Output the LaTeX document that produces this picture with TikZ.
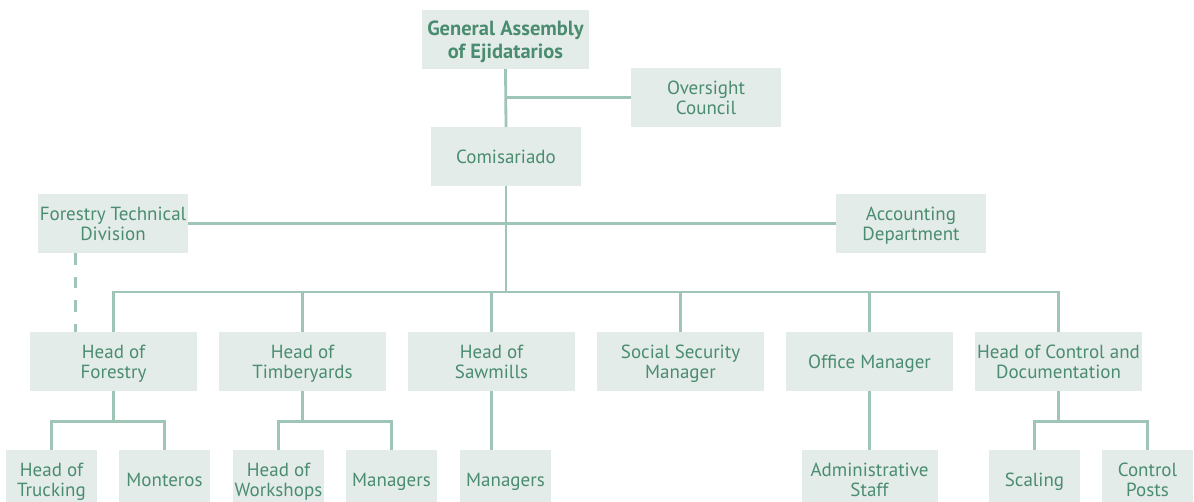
\documentclass[tikz,border=0pt]{standalone}
\usepackage{fontspec}
\setmainfont{PT Sans}
\definecolor{boxfill}{HTML}{E4ECE9}
\definecolor{txtgreen}{HTML}{4A8C70}
\definecolor{linkgreen}{HTML}{9EC5B6}
\begin{document}
\begin{tikzpicture}[x=1pt,y=-1pt,
  % text is centred between the cap line of the first row and the last baseline
  unit/.style={fill=boxfill, draw=none, inner sep=0pt, align=center,
    text=txtgreen, font=\fontsize{19}{20}\selectfont,
    text height=33.3pt, text depth=0pt, minimum height=59pt},
  oneline/.style={text height=13.3pt},
  wide/.style={unit, minimum width=167pt},
  mid/.style={unit, minimum width=150pt},
  small/.style={unit, minimum width=91pt},
  link/.style={draw=linkgreen, line width=2.8pt},
  dotted link/.style={link, dash pattern=on 11.5pt off 12pt}]
\useasboundingbox (0,0) rectangle (1194,502);
\clip (0,0) rectangle (1194,502);

% governing bodies
\node[wide, font=\fontsize{20.5}{23}\selectfont\bfseries, text height=37.5pt]
  (ga) at (505.5,39.5) {General Assembly\\of Ejidatarios};
\node[mid] (ovs) at (706,97.5) {Oversight\\Council};
\node[mid, oneline] (com) at (506,156.5) {Comisariado};
\node[mid] (ftd) at (113,223.5) {Forestry Technical\\Division};
\node[mid] (acc) at (911,223.5) {Accounting\\Department};

% department heads
\node[wide] (hfo) at (113.5,361.5) {Head of\\Forestry};
\node[wide] (hti) at (302.5,361.5) {Head of\\Timberyards};
\node[wide] (hsa) at (491.5,361.5) {Head of\\Sawmills};
\node[wide] (ssm) at (680.5,361.5) {Social Security\\Manager};
\node[wide, oneline] (ofm) at (869.5,361.5) {Office Manager};
\node[wide] (hcd) at (1058.5,361.5) {Head of Control and\\Documentation};

% staff units
\node[small] (tru) at (51.5,479.5) {Head of\\Trucking};
\node[small, oneline] (mon) at (164.5,479.5) {Monteros};
\node[small] (wsh) at (278.5,479.5) {Head of\\Workshops};
\node[small, oneline] (mtb) at (391.5,479.5) {Managers};
\node[small, oneline] (msa) at (505.5,479.5) {Managers};
\node[unit, minimum width=136pt] (adm) at (869.5,479.5) {Administrative\\Staff};
\node[small, oneline] (sca) at (1034.5,479.5) {Scaling};
\node[small] (cpo) at (1147.5,479.5) {Control\\Posts};

% junction points
\coordinate (jov) at (506,97.5);
\coordinate (bus) at (506,292);

% top of the hierarchy
\draw[link] (ga.south) -- (com.north);
\draw[link] (jov) -- (jov -| ovs.west);
\draw[link] (com.south) -- (bus);
\draw[link] (ftd.east) -- (acc.west);
\draw[dotted link] (ftd.south -| 75.7,0) -- (hfo.north -| 75.7,0);

% bus to the department heads
\draw[link] (hfo.north) |- (bus) -| (hcd.north);
\foreach \n in {hti,hsa,ssm,ofm}
  \draw[link] (\n.north) -- (\n.north |- bus);

% forestry
\draw[link] (hfo.south) -- ++(0,30) coordinate (jfo);
\draw[link] (tru.north) |- (jfo) -| (mon.north);
% timberyards
\draw[link] (hti.south) -- ++(0,30) coordinate (jti);
\draw[link] (wsh.north) |- (jti) -| (mtb.north);
% sawmills
\draw[link] (hsa.south) -- (hsa.south |- msa.north);
% office
\draw[link] (ofm.south) -- (adm.north);
% control and documentation
\draw[link] (hcd.south) -- ++(0,30) coordinate (jcd);
\draw[link] (sca.north) |- (jcd) -| (cpo.north);
\end{tikzpicture}
\end{document}
